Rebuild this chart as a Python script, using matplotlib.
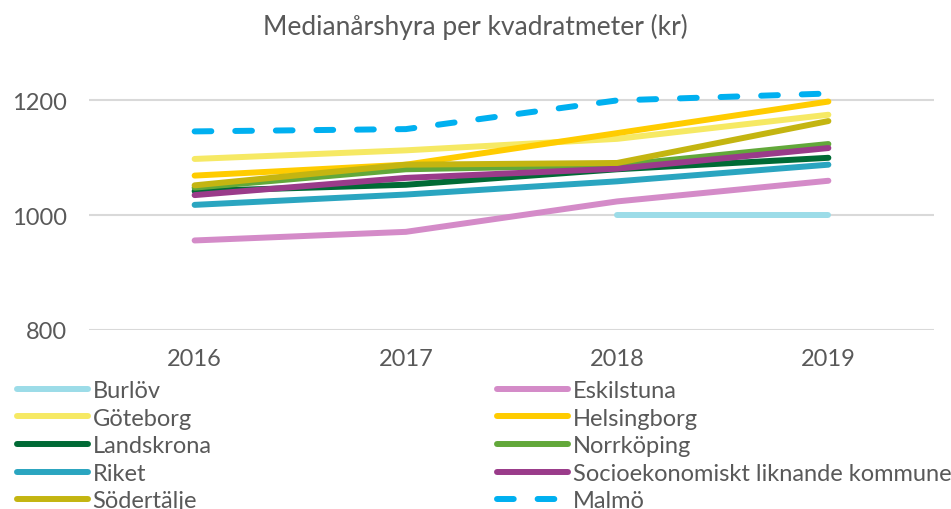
import numpy as np
import matplotlib
matplotlib.use("Agg")
import matplotlib.pyplot as plt

plt.rcParams['font.family'] = ['Lato', 'DejaVu Sans']

# Data
years = ['2016', '2017', '2018', '2019']
burlov = [np.nan, np.nan, 1000, 1000]
eskilstuna = [956, 971, 1024, 1060]
goteborg = [1098, 1113, 1133, 1175]
helsingborg = [1069, 1088, 1143, 1198]
landskrona = [1042, 1053, 1080, 1100]
norrkoping = [1048, 1080, 1087, 1124]
riket = [1018, 1036, 1059, 1088]
socio = [1035, 1065, 1081, 1117]
sodertalje = [1052, 1088, 1091, 1164]
malmo = [1146, 1150, 1200, 1212]

series = [
    ('Burlöv', burlov, '#9CDCE8'),
    ('Eskilstuna', eskilstuna, '#D48BC8'),
    ('Göteborg', goteborg, '#F6E964'),
    ('Helsingborg', helsingborg, '#FFCC00'),
    ('Landskrona', landskrona, '#006A35'),
    ('Norrköping', norrkoping, '#62A83A'),
    ('Riket', riket, '#2AA5C0'),
    ('Socioekonomiskt liknande kommuner', socio, '#9A3B8A'),
    ('Södertälje', sodertalje, '#C4B511'),
]

text_color = '#595959'

fig = plt.figure(figsize=(9.51, 5.10), dpi=100)
ax = fig.add_axes([89 / 951, 1 - 331 / 510, (934 - 89) / 951, (331 - 44) / 510])

x = np.arange(len(years))
handles = {}
for name, vals, color in series:
    line, = ax.plot(x, vals, color=color, lw=4.3, solid_capstyle='round',
                    solid_joinstyle='round', label=name)
    handles[name] = line

line, = ax.plot(x, malmo, color='#00B0F0', lw=4.3, dashes=(2.8, 4.0),
                dash_capstyle='round', label='Malmö')
handles['Malmö'] = line

ax.set_xlim(-0.5, 3.5)
ax.set_ylim(800, 1300)
ax.set_yticks([800, 1000, 1200])
ax.set_xticks(x)
ax.set_xticklabels(years)
ax.grid(axis='y', color='#D9D9D9', lw=1.5)
ax.set_axisbelow(True)
for s in ax.spines.values():
    s.set_visible(False)
ax.tick_params(axis='both', length=0, labelsize=17, labelcolor=text_color)
ax.tick_params(axis='y', pad=16)
ax.tick_params(axis='x', pad=13)

fig.text(0.5, 1 - 27 / 510, 'Medianårshyra per kvadratmeter (kr)', ha='center',
         va='center', fontsize=19, color=text_color)

# Legend in two columns, filled row by row
col1 = ['Burlöv', 'Göteborg', 'Landskrona', 'Riket', 'Södertälje']
col2 = ['Eskilstuna', 'Helsingborg', 'Norrköping',
        'Socioekonomiskt liknande kommuner', 'Malmö']
for names, x0 in [(col1, 17), (col2, 497)]:
    leg = fig.legend([handles[n] for n in names], names, loc='upper left',
                     bbox_to_anchor=(x0 / 951, 1 - 381 / 510), frameon=False,
                     fontsize=17, handlelength=3.0, handletextpad=0.2,
                     labelspacing=0.28, borderaxespad=0, borderpad=0)
    for t in leg.get_texts():
        t.set_color(text_color)

fig.savefig('out.png', dpi=100)
